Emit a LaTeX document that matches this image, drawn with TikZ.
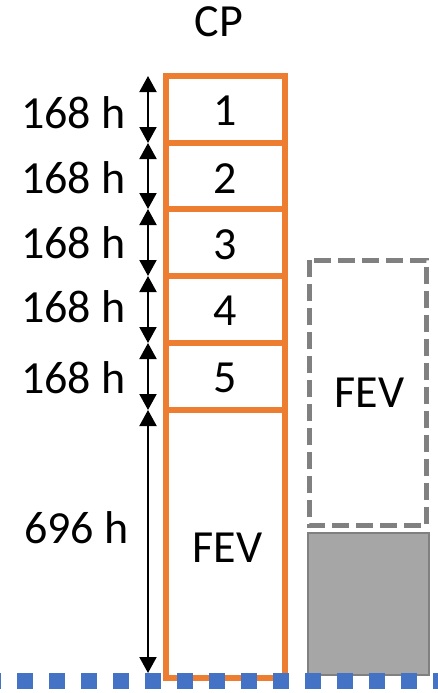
\documentclass[tikz,border=0pt]{standalone}
\usepackage{fontspec}
\setmainfont{Carlito}
\usetikzlibrary{arrows.meta}
\definecolor{orng}{HTML}{ED7D31}
\definecolor{gline}{HTML}{808080}
\definecolor{gfill}{HTML}{A6A6A6}
\definecolor{blu}{HTML}{4472C4}
\begin{document}
\begin{tikzpicture}[x=1pt,y=-1pt,
  lbl/.style={font=\fontsize{46}{50}\selectfont, inner sep=0pt, anchor=base},
  cpbox/.style={draw=orng, line width=6pt, fill=white},
  dur/.style={arrows={Triangle[width=17pt,length=16pt]-Triangle[width=17pt,length=16pt]}, line width=2pt, black}]
\useasboundingbox (0,0) rectangle (437,693);
\fill[white] (0,0) rectangle (437,693);
% CP column
\draw[cpbox] (165.5,76) rectangle (285,143);
\draw[cpbox] (165.5,143) rectangle (285,209);
\draw[cpbox] (165.5,209) rectangle (285,276);
\draw[cpbox] (165.5,276) rectangle (285,343);
\draw[cpbox] (165.5,343) rectangle (285,410);
\draw[cpbox] (165.5,410) rectangle (285,678);
\node[lbl] (cp) at (219,37) {CP};
\node[lbl] (n1) at (225.5,125) {1};
\node[lbl] (n2) at (225.5,193) {2};
\node[lbl] (n3) at (225.5,259) {3};
\node[lbl] (n4) at (225.5,325) {4};
\node[lbl] (n5) at (225.5,392) {5};
\node[lbl] (fev) at (227.5,562) {FEV};
% duration arrows
\coordinate (b0) at (148,76);
\coordinate (b1) at (148,143);
\coordinate (b2) at (148,209);
\coordinate (b3) at (148,276);
\coordinate (b4) at (148,343);
\coordinate (b5) at (148,410);
\coordinate (b6) at (148,673);
\draw[dur] (b1) -- (b0);
\draw[dur] (b2) -- (b1);
\draw[dur] (b3) -- (b2);
\draw[dur] (b4) -- (b3);
\draw[dur] (b5) -- (b4);
\draw[dur] (b6) -- (b5);
\node[lbl] (l1) at (73.5,128) {168 h};
\node[lbl] (l2) at (73.5,193) {168 h};
\node[lbl] (l3) at (73.5,258) {168 h};
\node[lbl] (l4) at (73.5,322) {168 h};
\node[lbl] (l5) at (73.5,393) {168 h};
\node[lbl] (l6) at (76.5,543) {696 h};
% right side
\draw[gline, line width=5pt, dash pattern=on 17pt off 7pt] (309.5,260) rectangle (426.5,525.5);
\node[lbl] (fev2) at (369.5,407) {FEV};
\draw[gline, fill=gfill, line width=2pt] (308,533) rectangle (429,675);
% baseline
\draw[blu, line width=16pt, dash pattern=on 16pt off 16pt] (-15,680.5) -- (450,680.5);
\end{tikzpicture}
\end{document}
